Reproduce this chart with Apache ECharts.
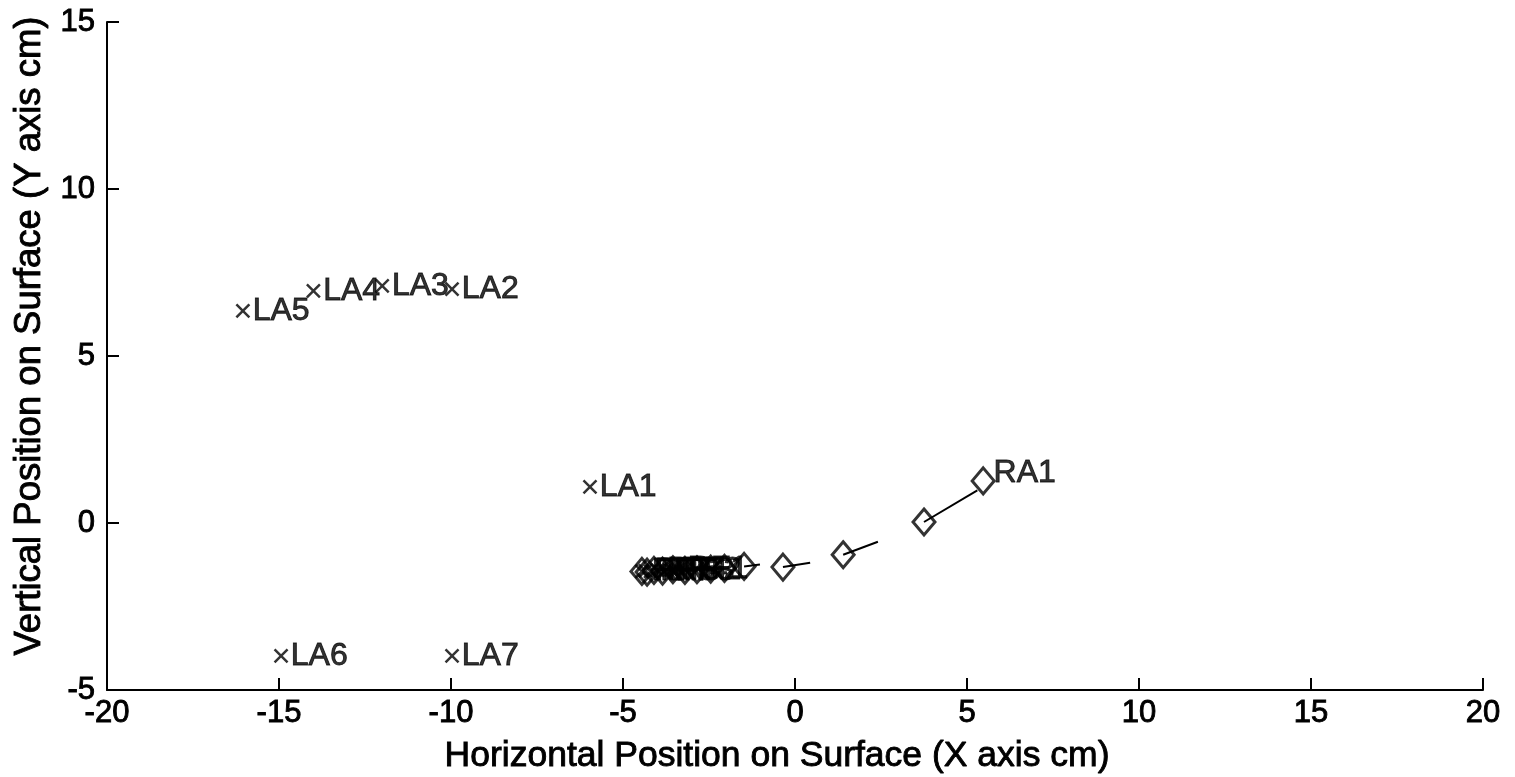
<!DOCTYPE html>
<html>
<head>
<meta charset="utf-8">
<script src="https://cdn.jsdelivr.net/npm/echarts@6/dist/echarts.min.js"></script>
<style>
  html, body { margin: 0; padding: 0; background: #fff; }
  #chart { width: 1515px; height: 777px; }
</style>
</head>
<body>
<div id="chart"></div>
<script>
// labelled "x" markers on the left side
const leftNames = ["LA1", "LA2", "LA3", "LA4", "LA5", "LA6", "LA7"];
const leftX = [-5.96, -9.97, -12.0, -14.0, -16.05, -14.94, -9.97];
const leftY = [1.08, 7.0, 7.1, 6.95, 6.35, -3.98, -3.98];

// crowded cluster of labelled markers near (-4, -1.4)
const clusterNames = ["RF7", "RF6", "RF5", "RF4", "RF3", "RF2", "RF1"];
const clusterX = [-4.45, -4.35, -4.2, -4.0, -3.8, -3.6, -3.4];
const clusterY = [-1.45, -1.43, -1.45, -1.41, -1.43, -1.41, -1.39];

// diamond track, last one is RA1
const diamondX = [-4.45, -4.3, -4.1, -3.85, -3.55, -3.2, -2.85, -2.45, -2.05, -1.48, -0.35, 1.4, 3.75, 5.47];
const diamondY = [-1.45, -1.47, -1.42, -1.44, -1.4, -1.42, -1.4, -1.38, -1.36, -1.3, -1.32, -0.95, 0.03, 1.26];
const diamondLabels = ["", "", "", "", "", "", "", "", "", "", "", "", "", "RA1"];

// direction segments drawn from some diamonds
const arrowFromX = [-1.48, -0.35, 1.4, 3.75];
const arrowFromY = [-1.3, -1.32, -0.95, 0.03];
const arrowToX = [-1.02, 0.44, 2.41, 5.3];
const arrowToY = [-1.24, -1.19, -0.56, 0.98];

const FONT = "Liberation Sans";

let chart = echarts.init(document.getElementById("chart"));

let xMark = "path://M0,0L10,10M10,0L0,10";

// scan-like heavy text
let heavy = { color: "#000", fontFamily: FONT, textBorderColor: "#000", textBorderWidth: 0.9 };

function labelled(names, xs, ys) {
  return names.map((n, i) => ({ name: n, value: [xs[i], ys[i]] }));
}

let segs = arrowFromX.map((x, i) => ({
  coords: [[x, arrowFromY[i]], [arrowToX[i], arrowToY[i]]],
}));

let pointLabel = Object.assign({
  show: true,
  position: "right",
  distance: 2,
  formatter: "{b}",
  fontSize: 32,
}, heavy);

let option = {
  animation: false,
  backgroundColor: "#fff",
  grid: { left: 107, right: 32, top: 22, bottom: 87, outerBoundsMode: "none", containLabel: false },
  xAxis: {
    type: "value",
    min: -20,
    max: 20,
    interval: 5,
    name: "Horizontal Position on Surface (X axis cm)",
    nameLocation: "middle",
    nameGap: 48,
    nameTextStyle: Object.assign({ fontSize: 35.5, padding: [0, 36, 0, 0] }, heavy),
    axisLine: { onZero: false, lineStyle: { color: "#000", width: 2 } },
    axisTick: { inside: true, length: 12, lineStyle: { color: "#000", width: 2 } },
    axisLabel: Object.assign({ fontSize: 31, margin: 8 }, heavy),
    splitLine: { show: false },
  },
  yAxis: {
    type: "value",
    min: -5,
    max: 15,
    interval: 5,
    name: "Vertical Position on Surface (Y axis cm)",
    nameLocation: "middle",
    nameGap: 57,
    nameTextStyle: Object.assign({ fontSize: 36.5, padding: [0, 0, 0, 40] }, heavy),
    axisLine: { onZero: false, lineStyle: { color: "#000", width: 2 } },
    axisTick: { inside: true, length: 12, lineStyle: { color: "#000", width: 2 } },
    axisLabel: Object.assign({ fontSize: 31, margin: 12 }, heavy),
    splitLine: { show: false },
  },
  series: [
    {
      type: "lines",
      coordinateSystem: "cartesian2d",
      data: segs,
      lineStyle: { color: "#000", width: 2, opacity: 1 },
      silent: true,
    },
    {
      type: "scatter",
      data: diamondX.map((x, i) => ({ name: diamondLabels[i], value: [x, diamondY[i]] })),
      symbol: "diamond",
      symbolSize: [22, 26],
      itemStyle: { color: "rgba(0,0,0,0)", borderColor: "#000", borderWidth: 3 },
      label: Object.assign({}, pointLabel, { distance: -2, offset: [0, -8] }),
    },
    {
      type: "scatter",
      data: labelled(clusterNames, clusterX, clusterY),
      symbol: xMark,
      symbolSize: 13,
      itemStyle: { color: "rgba(0,0,0,0)", borderColor: "#000", borderWidth: 2.5 },
      label: pointLabel,
    },
    {
      type: "scatter",
      data: labelled(leftNames, leftX, leftY),
      symbol: xMark,
      symbolSize: 13,
      itemStyle: { color: "rgba(0,0,0,0)", borderColor: "#000", borderWidth: 2.5 },
      label: pointLabel,
    },
  ],
};

chart.setOption(option);
</script>
</body>
</html>
